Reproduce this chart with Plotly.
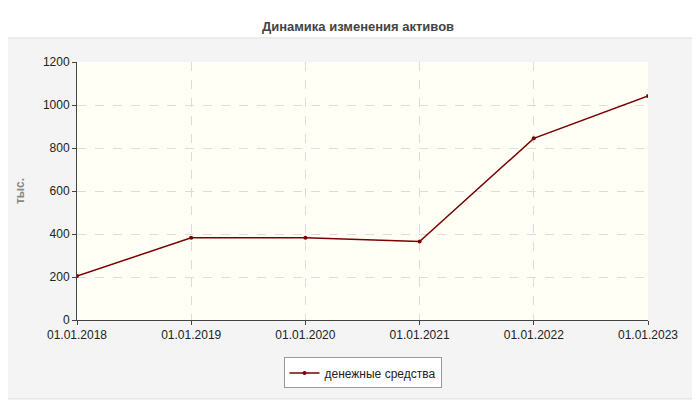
import plotly.graph_objects as go

dates = ['01.01.2018', '01.01.2019', '01.01.2020', '01.01.2021', '01.01.2022', '01.01.2023']
cash = [205, 382, 382, 365, 845, 1042]
series_name = 'денежные средства'

fig = go.Figure()
fig.add_trace(go.Scatter(
    x=dates, y=cash, name=series_name, mode='lines+markers',
    line=dict(color='#7a0000', width=1.5),
    marker=dict(color='#7a0000', size=4),
))

# grey panel behind the plot, then the pale plot area on top of it
fig.add_shape(type='rect', xref='paper', yref='paper', layer='below',
              x0=-0.133, x1=1.089, y0=-0.306, y1=1.093,
              fillcolor='#f4f4f4', line=dict(color='#dddddd', width=1))
fig.add_shape(type='rect', xref='paper', yref='paper', layer='below',
              x0=0, x1=1, y0=0, y1=1,
              fillcolor='#fffff6', line=dict(width=0))

fig.update_layout(
    width=700, height=400,
    paper_bgcolor='white', plot_bgcolor='#fffff6',
    margin=dict(l=69, r=60, t=54, b=88),
    font=dict(family='Arial, Liberation Sans', size=12, color='#222'),
    title=dict(text='<b>Динамика изменения активов</b>', x=0.5, y=0.965,
               font=dict(size=13, color='#444')),
    xaxis=dict(type='category', range=[0, 5], showgrid=True,
               gridcolor='#dcdcdc', griddash='dash', showline=True,
               linecolor='#444', ticks='outside', ticklen=4, tickcolor='#444'),
    yaxis=dict(range=[0, 1200], dtick=200, showgrid=True, gridcolor='#dcdcdc',
               griddash='dash', showline=True, linecolor='#444',
               ticks='outside', ticklen=4, tickcolor='#444', zeroline=False,
               title=dict(text='<b>тыс.</b>', font=dict(size=12, color='#888'))),
    showlegend=True,
    legend=dict(orientation='h', x=0.5, xanchor='center', y=-0.145,
                yanchor='top', bgcolor='white', bordercolor='#999',
                borderwidth=1, font=dict(size=12)),
)

fig.write_html("out.html")
